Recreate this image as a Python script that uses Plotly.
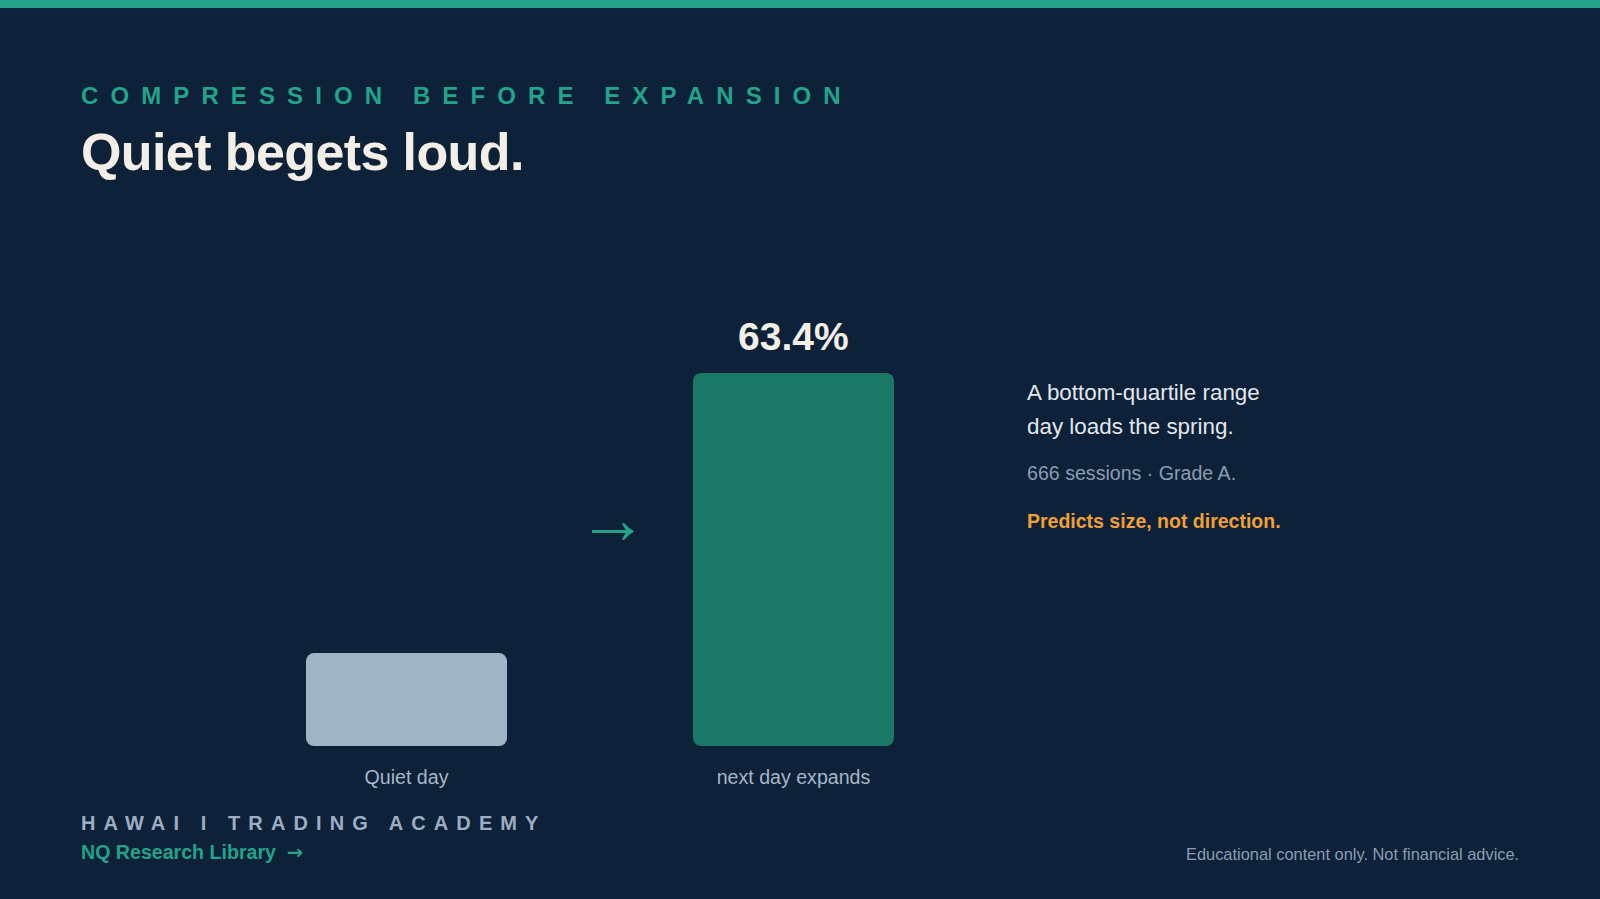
import plotly.graph_objects as go

# ---------------- data ----------------
categories = ["Quiet day", "next day expands"]
values = [15.8, 63.4]
value_labels = ["", "63.4%"]
bar_colors = ["#A0B4C6", "#1A7867"]

eyebrow = "COMPRESSION BEFORE EXPANSION"
title = "Quiet begets loud."
note_lines = ["A bottom-quartile range", "day loads the spring."]
note_meta = "666 sessions · Grade A."
note_punch = "Predicts size, not direction."
brand = "HAWAI I TRADING ACADEMY"
brand_link = "NQ Research Library"
disclaimer = "Educational content only. Not financial advice."
arrow_glyph = "→"

# ---------------- layout constants ----------------
W, H = 1600, 899
L, R, T, B = 213, 613, 276, 153
PW = W - L - R
PH = H - T - B
BAR_PX = 373            # pixel height of tallest bar
BAR_W = 201 / (PW / 2)  # bar width in category units

BG = "#0D2139"
TEAL = "#22A38A"
CREAM = "#F3EFE6"
FONT = "Liberation Sans, Arial, Helvetica, sans-serif"

ymax = max(values) * PH / BAR_PX


def px(x):
    return (x - L) / PW


def py(y):
    return (H - B - y) / PH


fig = go.Figure()
fig.add_trace(go.Bar(
    x=categories, base=[0 for _ in values], y=values,
    width=BAR_W, marker=dict(color=bar_colors, line=dict(width=0)),
    hoverinfo="skip", showlegend=False,
))

ann = []


def text_ann(x, y, text, size, color, weight=400, xanchor="left", spacing=None):
    if spacing is not None:
        text = f'<span style="letter-spacing:{spacing}px">{text}</span>'
    ann.append(dict(
        xref="paper", yref="paper", x=px(x), y=py(y), text=text,
        showarrow=False, xanchor=xanchor, yanchor="middle",
        font=dict(family=FONT, size=size, color=color, weight=weight),
    ))


text_ann(79, 95.5, eyebrow, 24, TEAL, 700, spacing=12.1)
text_ann(79, 152, title, 52, CREAM, 700, spacing=-0.6)
text_ann(1025, 392, note_lines[0], 22.4, "#E2E7EE")
text_ann(1025, 426, note_lines[1], 22.4, "#E2E7EE")
text_ann(1025, 472.5, note_meta, 19.6, "#8C9DB1")
text_ann(1025, 520.5, note_punch, 19.5, "#F0A035", 700)
text_ann(79, 822.5, brand, 20, "#9DAEC2", 700, spacing=8.1)
text_ann(79, 852, brand_link + '  <span style="font-family:DejaVu Sans">' + arrow_glyph + "</span>",
         19.6, TEAL, 700)
text_ann(1521, 854, disclaimer, 16.4, "#8C9DB1", xanchor="right")
text_ann(613, 519, arrow_glyph, 70, TEAL)
ann[-1]["xanchor"] = "center"

# value label above tallest bar
for c, v, lab in zip(categories, values, value_labels):
    if lab:
        ann.append(dict(
            x=c, y=v, xref="x", yref="y", text=lab, showarrow=False,
            xanchor="center", yanchor="middle", yshift=37,
            font=dict(family=FONT, size=39, color=CREAM, weight=700),
        ))

fig.update_layout(
    width=W, height=H,
    margin=dict(l=L, r=R, t=T, b=B, pad=0),
    paper_bgcolor=BG, plot_bgcolor=BG,
    barmode="overlay", barcornerradius=8,
    annotations=ann,
    shapes=[dict(type="rect", xref="paper", yref="paper",
                 x0=px(0), x1=px(W), y0=py(8), y1=py(0),
                 fillcolor=TEAL, line=dict(width=0), layer="above")],
    xaxis=dict(range=[-0.5, 1.5], showgrid=False, zeroline=False, showline=False,
               ticks="", ticklabelstandoff=17,
               tickfont=dict(family=FONT, size=19.6, color="#A7B6C6"),
               fixedrange=True),
    yaxis=dict(range=[0, ymax], visible=False, showgrid=False, zeroline=False,
               fixedrange=True),
    font=dict(family=FONT),
    hovermode=False,
)

fig.write_html("out.html", config={"displayModeBar": False},
               post_script="document.body.style.margin='0';document.body.style.overflow='hidden';")
